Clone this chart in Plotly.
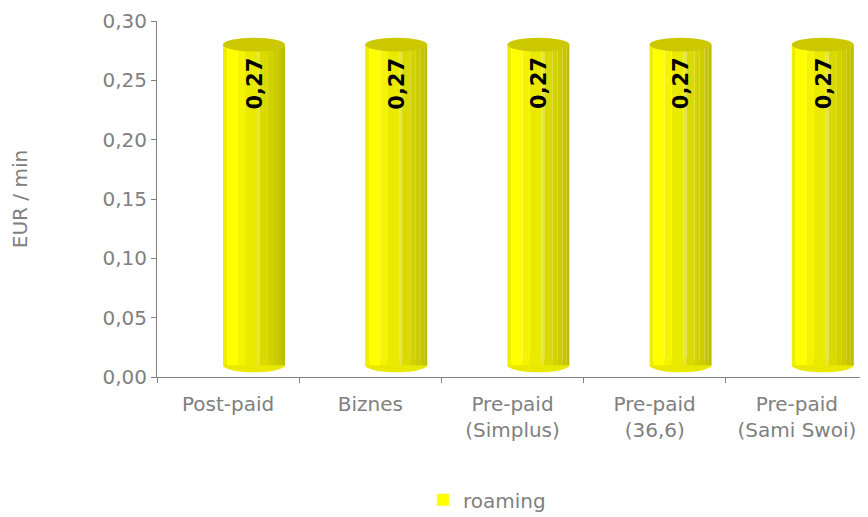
import plotly.graph_objects as go

categories = ["Post-paid", "Biznes", "Pre-paid<br>(Simplus)", "Pre-paid<br>(36,6)", "Pre-paid<br>(Sami Swoi)"]
roaming = [0.27, 0.27, 0.27, 0.27, 0.27]
series_name = "roaming"
y_ticks = [0.00, 0.05, 0.10, 0.15, 0.20, 0.25, 0.30]

# 3D-look styling (floor offset and cylinder shading stripes)
floor = 0.01
stripes = [  # (left, right, colour) relative to category centre
    (-0.036, -0.008, "#EEEE00"),
    (-0.008, 0.070, "#FFFF00"),
    (0.070, 0.119, "#F4F400"),
    (0.119, 0.203, "#EAEA00"),
    (0.203, 0.224, "#E6E640"),
    (0.224, 0.281, "#DADA00"),
    (0.281, 0.316, "#D2D200"),
    (0.316, 0.351, "#CCCC00"),
    (0.351, 0.379, "#C6C600"),
    (0.379, 0.400, "#BEBE00"),
]
GRAY = "#808080"
FONT = "DejaVu Sans"

fig = go.Figure()
for i, (l, r, c) in enumerate(stripes):
    fig.add_trace(go.Bar(
        x=categories, y=roaming, base=[floor] * len(roaming),
        width=r - l, offset=l,
        marker=dict(color="#FFFF00" if i == 1 else c, line=dict(width=0)),
        name=series_name, showlegend=(i == 1), legendgroup="r",
        hoverinfo="skip" if i != 1 else None,
    ))

shapes = []
annotations = []
bl, br = stripes[0][0], stripes[-1][1]
for idx, v in enumerate(roaming):
    top = v + floor
    # bottom rounding
    shapes.append(dict(type="circle", xref="x", yref="y", layer="below",
                       x0=idx + bl, x1=idx + br, y0=floor - 0.006, y1=floor + 0.006,
                       fillcolor="#E8E800", line=dict(width=0)))
    # top cap
    shapes.append(dict(type="circle", xref="x", yref="y", layer="above",
                       x0=idx + bl, x1=idx + br, y0=top - 0.0058, y1=top + 0.0058,
                       fillcolor="#CCC800", line=dict(width=0)))
    annotations.append(dict(x=idx + 0.19, y=v + 0.001, xref="x", yref="y",
                            text=f"{v:.2f}".replace(".", ","), textangle=-90,
                            showarrow=False, xanchor="center", yanchor="top",
                            font=dict(family=FONT, size=21, color="black", weight="bold")))

# page body has an 8px default margin, so the figure is sized/offset to compensate
fig.update_layout(
    width=860, height=509,
    margin=dict(l=149, r=0, t=13, b=140, autoexpand=False),
    paper_bgcolor="white", plot_bgcolor="white",
    barmode="overlay",
    separators=", ",
    font=dict(family=FONT, size=20, color=GRAY),
    shapes=shapes, annotations=annotations,
    showlegend=True,
    legend=dict(orientation="h", x=0.374, xanchor="left", y=-0.345, yanchor="middle",
                font=dict(family=FONT, size=20, color=GRAY)),
    xaxis=dict(
        type="category", range=[-0.5, 4.5], automargin=False,
        showline=True, linecolor=GRAY, linewidth=1,
        ticks="outside", ticklen=5, tickcolor=GRAY, tickson="boundaries",
        tickfont=dict(family=FONT, size=20, color=GRAY), ticklabelstandoff=9,
        showgrid=False,
    ),
    yaxis=dict(
        range=[0, 0.30], tickvals=y_ticks, tickformat=".2f", automargin=False,
        showline=True, linecolor=GRAY, linewidth=1,
        ticks="outside", ticklen=5, tickcolor=GRAY,
        tickfont=dict(family=FONT, size=20, color=GRAY),
        showgrid=False, zeroline=False,
        title=dict(text="EUR / min", font=dict(family=FONT, size=20, color=GRAY), standoff=70),
    ),
)

fig.write_html("out.html")
